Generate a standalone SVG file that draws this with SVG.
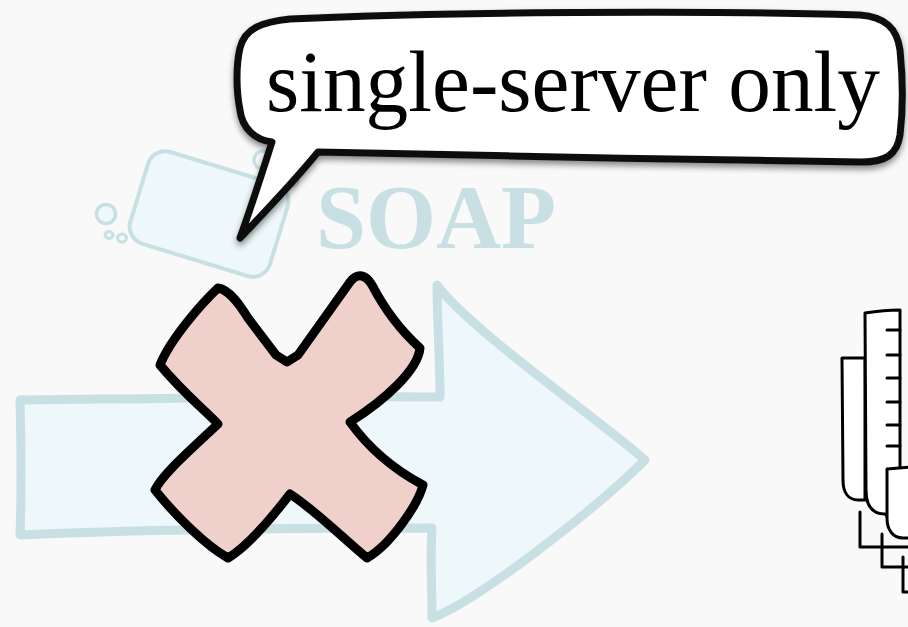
<svg xmlns="http://www.w3.org/2000/svg" width="908" height="627" viewBox="0 0 908 627">
  <defs>
    <style>
      .pale { fill: #eef7fa; stroke: #c8e0e4; stroke-linejoin: round; stroke-linecap: round; }
      .ink { fill: #ffffff; stroke: #000000; stroke-width: 3; stroke-linejoin: round; stroke-linecap: round; }
      .label { font-family: "Liberation Serif", "DejaVu Serif", serif; }
    </style>
    <filter id="bubbleShadow" x="-5%" y="-10%" width="110%" height="130%">
      <feDropShadow dx="0" dy="4" stdDeviation="3" flood-color="#000000" flood-opacity="0.45"/>
    </filter>
  </defs>

  <rect width="908" height="627" fill="#f9f9f9"/>

  <!-- soap bar with bubbles -->
  <g id="soap-icon">
    <rect class="pale" stroke-width="4" x="-73" y="-48" width="146" height="96" rx="18" transform="translate(209 214) rotate(17)"/>
    <circle class="pale" stroke-width="3.5" cx="106" cy="214" r="9.5"/>
    <ellipse class="pale" stroke-width="3" cx="109" cy="235" rx="4" ry="3.5"/>
    <ellipse class="pale" stroke-width="3" cx="122" cy="238" rx="4.5" ry="4"/>
    <circle class="pale" stroke-width="3.5" cx="263" cy="160" r="9"/>
    <circle class="pale" stroke-width="3" cx="293" cy="181" r="5"/>
  </g>

  <g id="soap-label">
    <text class="label" x="316" y="248" font-size="91" font-weight="bold" fill="#c8e0e4" textLength="240" lengthAdjust="spacingAndGlyphs">SOAP</text>
  </g>

  <!-- big request arrow -->
  <g id="arrow">
    <path class="pale" stroke-width="9" d="M20,400 C120,399 300,396 440,397 C440,360 437,320 437,285 C470,330 600,420 645,460 C600,505 480,600 432,618 C432,585 430,560 432,528 C300,528 120,530 20,535 C22,480 21,440 20,400 Z"/>
  </g>

  <!-- blocked mark -->
  <g id="cross">
    <path fill="#efd0cb" stroke="#000000" stroke-width="9" stroke-linejoin="round" stroke-linecap="round" d="M218,288 C230,290 240,305 248,318 L276,355 L287,362 L298,355 L350,282 C358,272 366,275 372,285 C385,310 400,330 420,348 C418,370 385,400 350,422 C370,450 395,470 423,485 C418,505 390,545 367,558 C345,540 315,510 290,494 C270,520 245,548 228,558 C205,545 175,515 155,490 C162,475 185,455 218,424 C205,410 185,395 160,365 C170,340 200,305 218,288 Z"/>
  </g>

  <!-- server rack at the right edge -->
  <g id="server">
    <path class="ink" d="M842,358 L865,358 L865,500 L858,500 C848,500 843,492 843,480 Z"/>
    <path class="ink" d="M865,313 C878,311 890,310 900,310 L900,530 L885,514 C872,514 866,505 866,490 Z"/>
    <g stroke="#000000" stroke-width="3" stroke-linecap="round">
      <line x1="887" y1="330" x2="900" y2="330"/>
      <line x1="887" y1="355" x2="900" y2="355"/>
      <line x1="887" y1="378" x2="900" y2="378"/>
      <line x1="887" y1="402" x2="900" y2="402"/>
      <line x1="887" y1="425" x2="900" y2="425"/>
      <line x1="887" y1="446" x2="900" y2="446"/>
    </g>
    <path class="ink" d="M887,469 L912,467 L912,538 L903,538 C893,538 887,530 887,518 Z"/>
    <g fill="none" stroke="#000000" stroke-width="3" stroke-linecap="round" stroke-linejoin="round">
      <path d="M860,512 L860,547 L910,547"/>
      <path d="M882,534 L882,567 L910,567"/>
      <path d="M903,557 L903,592 L910,592"/>
    </g>
  </g>

  <!-- speech bubble -->
  <g id="speech-bubble">
    <path filter="url(#bubbleShadow)" fill="#ffffff" stroke="#111111" stroke-width="7" stroke-linejoin="round" d="M272,142 C255,140 242,128 240,110 C236,90 236,65 240,48 C245,28 262,22 290,19 C450,12 700,10 860,15 C885,17 897,28 900,50 C903,80 903,110 900,135 C897,155 885,162 862,162 C700,160 450,155 318,152 C295,180 262,215 240,238 C252,205 263,170 272,142 Z"/>
    <text class="label" x="266" y="111" font-size="86" fill="#000000" textLength="614" lengthAdjust="spacingAndGlyphs">single-server only</text>
  </g>
</svg>
